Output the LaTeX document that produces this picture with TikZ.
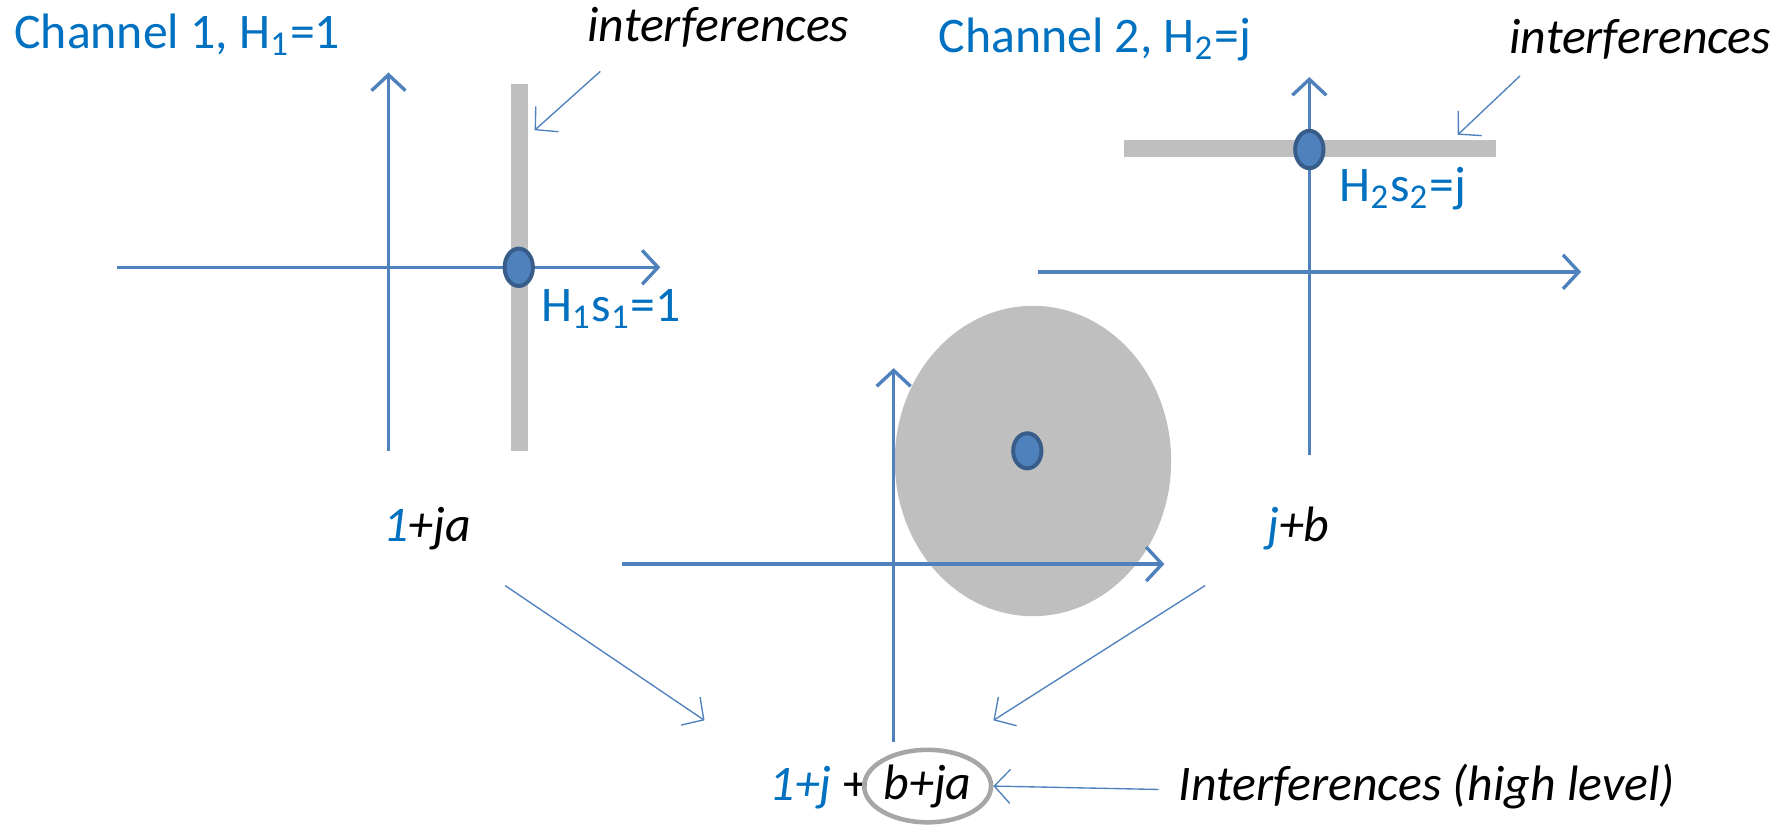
\documentclass[tikz,border=0pt]{standalone}
\usepackage{fontspec}
\setmainfont{Carlito}
\usetikzlibrary{arrows.meta, shapes.geometric}
\definecolor{axblue}{HTML}{4F81BD}
\definecolor{txblue}{HTML}{0070C0}
\definecolor{dotedge}{HTML}{385D8A}
\definecolor{greyfill}{HTML}{BFBFBF}
\definecolor{ring}{HTML}{A6A6A6}
\tikzset{
  axis/.style={draw=axblue, line width=0.3mm, -{Straight Barb[length=1.4mm, width=3mm]}},
  ptr/.style={draw=axblue, line width=0.12mm, -{Straight Barb[length=1.4mm, width=3mm]}},
  pt/.style={ellipse, draw=dotedge, fill=axblue, line width=0.35mm,
             minimum width=2.5mm, minimum height=3.3mm, inner sep=0pt},
  lbl/.style={font=\fontsize{12.5}{15}\selectfont, inner sep=0pt, anchor=base west},
  blbl/.style={lbl, text=txblue},
  ilbl/.style={lbl, font=\fontsize{12.5}{15}\selectfont\itshape},
}

\begin{document}
\begin{tikzpicture}[x=0.1mm, y=-0.1mm]
        \useasboundingbox (0,0) rectangle (1568,732);
        % channel 1
        \fill[greyfill] (451,74) rectangle (466,398);
        \draw[axis] (103,236) -- (583,236);
        \draw[axis] (343,398) -- (343,64);
        \node[pt] (p1) at (458,236) {};
        \node[blbl] (c1) at (12,43) {Channel 1, H\textsubscript{1}=1};
        \node[blbl] (v1) at (477,284) {H\textsubscript{1}s\textsubscript{1}=1};
        \node[ilbl] (i1) at (518,37) {interferences};
        \coordinate (i1s) at (530,63); \coordinate (i1t) at (472,115);
        \draw[ptr] (i1s) -- (i1t);
        % channel 2
        \fill[greyfill] (992,124) rectangle (1321,139);
        \draw[axis] (916,240) -- (1396,240);
        \draw[axis] (1156,402) -- (1156,68);
        \node[pt] (p2) at (1156,132) {};
        \node[blbl] (c2) at (828,46) {Channel 2, H\textsubscript{2}=j};
        \node[blbl] (v2) at (1182,178) {H\textsubscript{2}s\textsubscript{2}=j};
        \node[ilbl] (i2) at (1332,47) {interferences};
        \coordinate (i2s) at (1342,67); \coordinate (i2t) at (1287,119);
        \draw[ptr] (i2s) -- (i2t);
        % sum of both
        \fill[greyfill] (912,407) ellipse [x radius=122, y radius=137];
        \draw[axis] (549,498) -- (1028,498);
        \draw[axis] (789,655) -- (789,325);
        \node[pt, minimum height=3.1mm] (p3) at (907,398) {};
        \node[ilbl] (r1) at (338,478) {\textcolor{txblue}{1}+ja};
        \node[ilbl] (r2) at (1118,478) {\textcolor{txblue}{j}+b};
        \coordinate (r1s) at (446,517); \coordinate (r1t) at (622,636);
        \coordinate (r2s) at (1064,517); \coordinate (r2t) at (877,636);
        \draw[ptr] (r1s) -- (r1t); \draw[ptr] (r2s) -- (r2t);
        \node[ilbl] (sum) at (679,707) {\textcolor{txblue}{1+j} \upshape+};
        \node[ellipse, draw=ring, line width=0.4mm, minimum width=11.2mm, minimum height=6.4mm,
              inner sep=0pt, font=\fontsize{12.5}{15}\selectfont\itshape] (noise) at (819,694) {b+ja};
        \node[ilbl] (hl) at (1040,707) {Interferences (high level)};
        \coordinate (hls) at (1023,697);
        \draw[ptr] (hls) -- (noise.east);
      \end{tikzpicture}
\end{document}
